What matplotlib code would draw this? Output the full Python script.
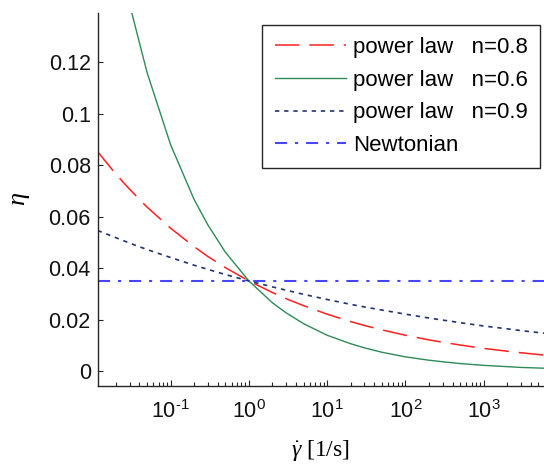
import matplotlib
matplotlib.use("Agg")
import matplotlib.pyplot as plt
from matplotlib.ticker import FixedLocator, FixedFormatter, NullFormatter

plt.rcParams['font.family'] = ['Liberation Sans', 'DejaVu Sans']
plt.rcParams['mathtext.fontset'] = 'custom'
plt.rcParams['mathtext.rm'] = 'Liberation Sans'
plt.rcParams['mathtext.it'] = 'Liberation Serif:italic'
plt.rcParams['mathtext.bf'] = 'Liberation Sans:bold'

# ---- data ----
shear_rate = [0.0117, 0.02, 0.03, 0.05, 0.1, 0.2, 0.3, 0.5, 1, 2, 3, 5, 10,
              20, 30, 50, 100, 200, 300, 500, 1000, 2000, 3000, 5900]
eta_n08 = [0.0852, 0.0765, 0.0706, 0.0637, 0.0555, 0.0483, 0.0445, 0.0402,
           0.0350, 0.0305, 0.0281, 0.0254, 0.0221, 0.0192, 0.0177, 0.0160,
           0.0139, 0.0121, 0.0112, 0.0101, 0.0088, 0.0077, 0.0071, 0.0062]
eta_n06 = [0.2075, 0.1674, 0.1423, 0.1160, 0.0879, 0.0666, 0.0567, 0.0462,
           0.0350, 0.0265, 0.0226, 0.0184, 0.0139, 0.0106, 0.0090, 0.0073,
           0.0055, 0.0042, 0.0036, 0.0029, 0.0022, 0.0017, 0.0014, 0.0011]
eta_n09 = [0.0546, 0.0518, 0.0497, 0.0472, 0.0441, 0.0411, 0.0395, 0.0375,
           0.0350, 0.0327, 0.0314, 0.0298, 0.0278, 0.0259, 0.0249, 0.0237,
           0.0221, 0.0206, 0.0198, 0.0188, 0.0175, 0.0164, 0.0157, 0.0147]
newton_x = [0.0117, 5900]
newton_eta = [0.035, 0.035]

series_labels = ['power law   n=0.8', 'power law   n=0.6',
                 'power law   n=0.9', 'Newtonian']
xtick_values = [0.1, 1, 10, 100, 1000]
xtick_labels = [r'$\mathregular{10^{\text{-}1}}$', r'$\mathregular{10^{0}}$',
                r'$\mathregular{10^{1}}$', r'$\mathregular{10^{2}}$',
                r'$\mathregular{10^{3}}$']
ytick_values = [0, 0.02, 0.04, 0.06, 0.08, 0.1, 0.12]
ytick_labels = ['0', '0.02', '0.04', '0.06', '0.08', '0.1', '0.12']

# ---- figure ----
fig = plt.figure(figsize=(5.44, 4.68), dpi=100)
ax = fig.add_axes([97.7 / 544, 1 - 385.7 / 468, 1 - 97.7 / 544, (385.7 - 13.3) / 468])

ax.plot(shear_rate, eta_n08, color='#FF2020', lw=1.1, dashes=(16, 6.5),
        label=series_labels[0])
ax.plot(shear_rate, eta_n06, color='#2E8B57', lw=1.0, label=series_labels[1])
ax.plot(shear_rate, eta_n09, color='#22336E', lw=1.2, dashes=(2.6, 2.9),
        label=series_labels[2])
ax.plot(newton_x, newton_eta, color='#4646FF', lw=1.5,
        dashes=(5.8, 3.8, 1.5, 3.8), label=series_labels[3])

ax.set_xscale('log')
ax.set_xlim(0.0117, 5900)
ax.set_ylim(-0.0057, 0.139)

ax.xaxis.set_major_locator(FixedLocator(xtick_values))
ax.xaxis.set_major_formatter(FixedFormatter(xtick_labels))
ax.xaxis.set_minor_formatter(NullFormatter())
ax.yaxis.set_major_locator(FixedLocator(ytick_values))
ax.yaxis.set_major_formatter(FixedFormatter(ytick_labels))

ax.tick_params(axis='both', which='major', direction='in', labelsize=15.5,
               width=0.8, color='#262626', labelcolor='#111111')
ax.tick_params(axis='x', which='major', length=4.3, pad=10.5)
ax.tick_params(axis='x', which='minor', direction='in', length=2.9, width=0.8,
               color='#262626')
ax.tick_params(axis='y', which='major', length=3.6, pad=5)
ax.tick_params(axis='y', which='minor', left=False)

for side in ['top', 'right']:
    ax.spines[side].set_visible(False)
for side in ['left', 'bottom']:
    ax.spines[side].set_linewidth(1.0)
    ax.spines[side].set_color('#262626')

ax.set_xlabel(r'$\dot{\gamma}$ [1/s]', fontfamily='Liberation Serif',
              fontsize=17, labelpad=11)
ax.set_ylabel(r'$\eta$', fontfamily='Liberation Serif', fontsize=19,
              labelpad=12)

leg = ax.legend(loc='upper left', bbox_to_anchor=(262.3 / 544, 1 - 25 / 468),
                bbox_transform=fig.transFigure, borderaxespad=0,
                fontsize=16, handlelength=3.2, handletextpad=0.33,
                borderpad=0.55, labelspacing=0.52, fancybox=False,
                framealpha=1, edgecolor='#262626')
leg.get_frame().set_linewidth(1.0)

fig.savefig('out.png', dpi=100)
